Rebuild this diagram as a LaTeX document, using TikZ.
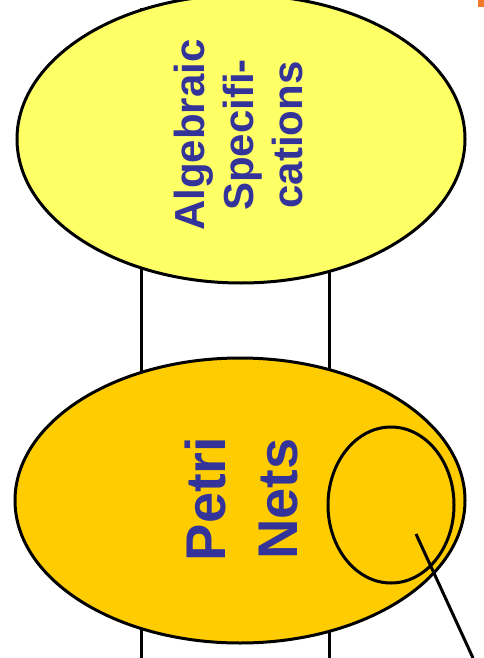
\documentclass[tikz,border=0pt]{standalone}
\usepackage{fontspec}
\setmainfont{Liberation Sans}
\usepackage{tikz}
\usetikzlibrary{shapes.geometric}
\definecolor{lightyel}{HTML}{FFFF66}
\definecolor{gold}{HTML}{FFCC00}
\definecolor{txtblue}{HTML}{333399}
\definecolor{cornerorange}{HTML}{F07828}
\tikzstyle{blob}=[draw, ellipse, line width=3pt, inner sep=0pt]
\tikzstyle{sidetext}=[text=txtblue, font=\bfseries, rotate=90, align=center, inner sep=0pt]
\tikzstyle{line}=[draw, line width=3pt]

\begin{document}
\begin{tikzpicture}[x=1pt, y=-1pt]
		\useasboundingbox (0,0) rectangle (484,658);
		\fill[cornerorange] (478,0) rectangle (484,7);
		\coordinate (l1) at (141,8);
		\coordinate (l2) at (141,658);
		\coordinate (r1) at (329,142);
		\coordinate (r2) at (329,658);
		\draw[line] (l1) -- (l2);
		\draw[line] (r1) -- (r2);
		\node[blob, fill=lightyel, minimum width=448pt, minimum height=288pt] (A) at (241,139) {};
		\node[blob, fill=gold, minimum width=450pt, minimum height=285pt] (P) at (240,500.5) {};
		\node[blob, minimum width=126pt, minimum height=156pt] (S) at (391,505) {};
		\node[sidetext, font=\bfseries\fontsize{42}{49}\selectfont] (alg) at (238,135) {Algebraic\\Specifi-\\cations};
		\node[sidetext, font=\bfseries\fontsize{56}{72}\selectfont] (pn) at (241,499) {Petri\hspace{0.3em}\\Nets};
		\coordinate (tip) at (416,534);
		\coordinate (tail) at (473,658);
		\draw[line] (tip) -- (tail);
	\end{tikzpicture}
\end{document}
